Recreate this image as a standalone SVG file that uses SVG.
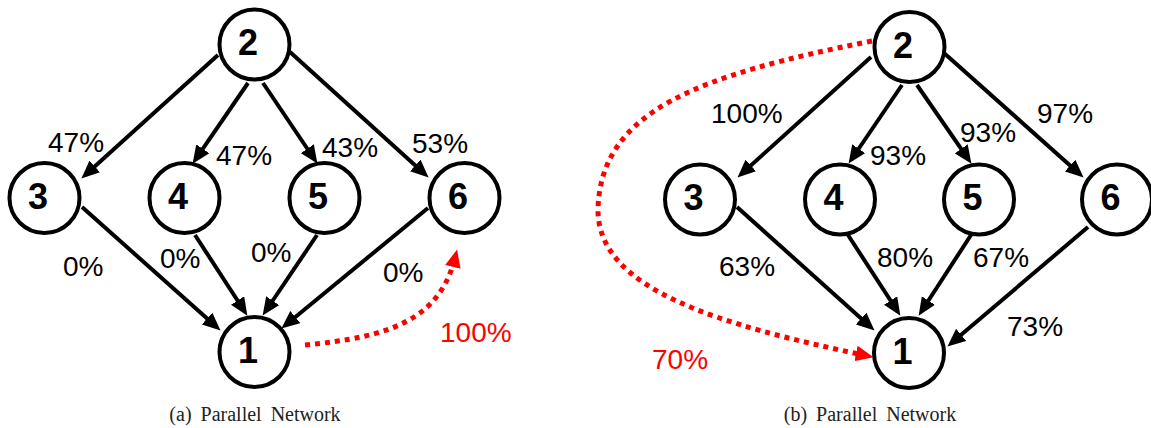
<svg xmlns="http://www.w3.org/2000/svg" width="1151" height="428" viewBox="0 0 1151 428">
<style>
.node circle{fill:#fff;stroke:#000;stroke-width:4}
.node text{font-family:"Liberation Sans",Arial,sans-serif;font-weight:bold;font-size:36px;text-anchor:middle;fill:#000}
.edge{stroke:#000;stroke-width:4;fill:none;marker-end:url(#ah)}
.red{stroke:#f00;stroke-width:5;stroke-dasharray:5 5;fill:none;marker-end:url(#ahr)}
.lbl{font-family:"Liberation Sans",Arial,sans-serif;font-size:28px;fill:#000}
.rl{fill:#f00}
.cap{font-family:"Liberation Serif","Times New Roman",serif;font-size:20px;word-spacing:4px;fill:#222;text-anchor:middle}
</style>
<defs>
<marker id="ah" markerUnits="userSpaceOnUse" markerWidth="18" markerHeight="16" viewBox="0 0 16 14" refX="10" refY="7" orient="auto"><path d="M0,0 L16,7 L0,14 z" fill="#000"/></marker>
<marker id="ahr" markerUnits="userSpaceOnUse" markerWidth="18" markerHeight="16" viewBox="0 0 16 14" refX="10" refY="7" orient="auto"><path d="M0,0 L16,7 L0,14 z" fill="#f00"/></marker>
</defs>
<rect width="1151" height="428" fill="#fff"/>
<g id="connectors">
<line class="edge" x1="218" y1="55" x2="86.4" y2="174"/>
<line class="edge" x1="248" y1="83" x2="196.4" y2="158.1"/>
<line class="edge" x1="263" y1="83" x2="313.6" y2="158"/>
<line class="edge" x1="290" y1="52" x2="423.6" y2="173"/>
<line class="edge" x1="82" y1="207" x2="215.5" y2="326"/>
<line class="edge" x1="195" y1="235" x2="243.7" y2="310"/>
<line class="edge" x1="317" y1="235" x2="266.4" y2="310"/>
<line class="edge" x1="428" y1="208" x2="286.6" y2="324.2"/>
<path class="red" d="M305,345 C390,337 440,320 455.5,256"/>
<line class="edge" x1="871" y1="57" x2="742.5" y2="173"/>
<line class="edge" x1="902" y1="85" x2="852.4" y2="158"/>
<line class="edge" x1="917" y1="85" x2="967.6" y2="158.1"/>
<line class="edge" x1="944" y1="53" x2="1078.5" y2="173"/>
<line class="edge" x1="737" y1="207" x2="869.5" y2="326"/>
<line class="edge" x1="848" y1="235" x2="896.7" y2="310"/>
<line class="edge" x1="971" y1="235" x2="922.3" y2="310"/>
<line class="edge" x1="1088" y1="227" x2="952.6" y2="342.1"/>
<path class="red" d="M872,41 C700,75 600,110 598,210 C598,290 720,325 867,355.8"/>
</g>
<g id="a-n2" class="node"><circle cx="254.5" cy="44.5" r="35"/><text x="248" y="55">2</text></g>
<g id="a-n3" class="node"><circle cx="44.5" cy="198" r="35"/><text x="38" y="208.5">3</text></g>
<g id="a-n4" class="node"><circle cx="184.5" cy="198" r="35"/><text x="178" y="208.5">4</text></g>
<g id="a-n5" class="node"><circle cx="324.5" cy="198" r="35"/><text x="318" y="208.5">5</text></g>
<g id="a-n6" class="node"><circle cx="464.5" cy="198" r="35"/><text x="458" y="208.5">6</text></g>
<g id="a-n1" class="node"><circle cx="254.5" cy="352" r="35"/><text x="248" y="362.5">1</text></g>
<g id="b-n2" class="node"><circle cx="909.5" cy="47" r="35"/><text x="903" y="57.5">2</text></g>
<g id="b-n3" class="node"><circle cx="700" cy="199.5" r="35"/><text x="693.5" y="210">3</text></g>
<g id="b-n4" class="node"><circle cx="840" cy="199.5" r="35"/><text x="833.5" y="210">4</text></g>
<g id="b-n5" class="node"><circle cx="979" cy="199.5" r="35"/><text x="972.5" y="210">5</text></g>
<g id="b-n6" class="node"><circle cx="1117" cy="199.5" r="35"/><text x="1110.5" y="210">6</text></g>
<g id="b-n1" class="node"><circle cx="909" cy="353" r="35"/><text x="902.5" y="363.5">1</text></g>
<g id="labels">
<text class="lbl" x="48" y="152">47%</text>
<text class="lbl" x="216" y="165">47%</text>
<text class="lbl" x="322" y="157">43%</text>
<text class="lbl" x="412" y="153">53%</text>
<text class="lbl" x="63" y="276">0%</text>
<text class="lbl" x="160" y="268">0%</text>
<text class="lbl" x="251" y="262">0%</text>
<text class="lbl" x="383" y="282">0%</text>
<text class="lbl rl" x="440" y="342">100%</text>
<text class="lbl" x="711" y="123">100%</text>
<text class="lbl" x="870" y="165">93%</text>
<text class="lbl" x="960" y="142">93%</text>
<text class="lbl" x="1037" y="123">97%</text>
<text class="lbl" x="719" y="276">63%</text>
<text class="lbl" x="877" y="267">80%</text>
<text class="lbl" x="973" y="267">67%</text>
<text class="lbl" x="1007" y="336">73%</text>
<text class="lbl rl" x="652" y="369">70%</text>
<text class="cap" x="255" y="421">(a) Parallel Network</text>
<text class="cap" x="870" y="421">(b) Parallel Network</text>
</g>
</svg>
